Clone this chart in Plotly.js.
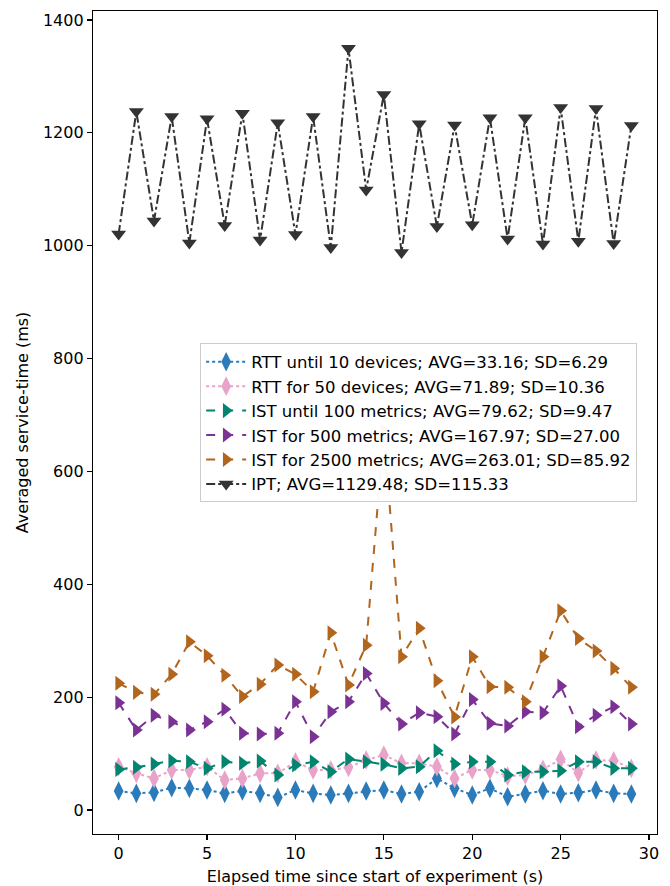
<!DOCTYPE html>
<html>
<head>
<meta charset="utf-8">
<script src="https://cdn.plot.ly/plotly-3.0.1.min.js"></script>
<style>html,body{margin:0;padding:0;background:#fff}#chart{width:670px;height:886px}</style>
</head>
<body>
<div id="chart"></div>
<script>
const seconds = [0,1,2,3,4,5,6,7,8,9,10,11,12,13,14,15,16,17,18,19,20,21,22,23,24,25,26,27,28,29];

const rttUntil10 = [33.7,29.5,31.3,39.5,38.4,35.4,29.5,33.7,29.5,22.4,35.4,29.5,26.6,29.5,33.7,35.4,28.4,32.5,56,38.4,26.6,38.4,23.6,28.4,34.2,28.4,30.7,35.4,29.5,28.4];
const rttFor50 = [76.8,65,56,71,71,76.8,53,56,65,65,85.6,71,71,75.6,88.6,97.5,82.7,82.7,76.8,56,71,71,60,62,72,89.8,66,88.6,87.4,73.8];
const istUntil100 = [72,75.6,81.5,87.4,85.6,73.8,85.6,82.7,86.8,62,79.7,85.6,67.9,90.4,85.6,81,73.8,76.8,105,81.5,85.6,85.6,62,67.9,67.9,69.7,85.6,85.6,73.8,73.8];
const istFor500 = [190,141.8,168,156.5,141.8,156.5,178.4,136,134.7,136,192,130,174,192,242,189,152.4,172.5,165.4,134.7,196,153.6,148.8,174,172.5,219.7,147.6,168,183,152.4];
const istFor2500 = [224.5,208.5,205,240.5,298,273.5,239,201,223,257,240.5,209.7,314,221.5,292,672,271.7,322,229,165,271.7,218.5,217.4,192,271.7,353,304,282,251,217.4];
const ipt = [1021,1238,1044,1229,1005,1225,1036,1235,1010,1218,1020,1229,997,1350,1099,1268,988,1216,1034,1214,1037,1227,1012,1227,1003,1245,1008,1243,1004,1213];

const seriesNames = [
  "RTT until 10 devices; AVG=33.16; SD=6.29",
  "RTT for 50 devices; AVG=71.89; SD=10.36",
  "IST until 100 metrics; AVG=79.62; SD=9.47",
  "IST for 500 metrics; AVG=167.97; SD=27.00",
  "IST for 2500 metrics; AVG=263.01; SD=85.92",
  "IPT; AVG=1129.48; SD=115.33"
];
const seriesValues = [rttUntil10, rttFor50, istUntil100, istFor500, istFor2500, ipt];
const colors = ["#2b7bba", "#e9a3c9", "#01856f", "#7b3294", "#b2651d", "#333333"];
const dashes = ["dot", "dot", "dash", "dash", "dash", "dashdot"];
const symbols = ["diamond-tall", "diamond-tall", "triangle-right", "triangle-right", "triangle-right", "triangle-down"];
const sizes = [14, 14, 13, 13, 13, 13];

const traces = seriesValues.map((vals, i) => ({
  x: seconds,
  y: vals,
  name: seriesNames[i],
  type: "scatter",
  mode: "lines+markers",
  line: {color: colors[i], dash: dashes[i], width: 2},
  marker: {color: colors[i], symbol: symbols[i], size: sizes[i], line: {width: 0}}
}));

const fontFam = "DejaVu Sans, sans-serif";
const layout = {
  width: 670, height: 886,
  margin: {l: 93, r: 13, t: 11, b: 52},
  paper_bgcolor: "#fff", plot_bgcolor: "#fff",
  font: {family: fontFam, size: 16, color: "#000"},
  showlegend: true,
  legend: {
    x: 0.19, y: 0.596, xanchor: "left", yanchor: "top",
    bgcolor: "rgba(255,255,255,0.95)", bordercolor: "#cccccc", borderwidth: 1,
    font: {family: fontFam, size: 16.5, color: "#000"},
    tracegroupgap: 0, itemwidth: 40
  },
  xaxis: {
    range: [-1.45, 30.45], tickvals: [0,5,10,15,20,25,30],
    ticks: "outside", ticklen: 5, tickwidth: 1.2, tickcolor: "#000",
    showline: true, mirror: true, linecolor: "#000", linewidth: 1.2,
    showgrid: false, zeroline: false,
    tickfont: {family: fontFam, size: 16},
    title: {text: "Elapsed time since start of experiment (s)", font: {family: fontFam, size: 16}, standoff: 8}
  },
  yaxis: {
    range: [-42.5, 1416], tickvals: [0,200,400,600,800,1000,1200,1400],
    ticks: "outside", ticklen: 5, tickwidth: 1.2, tickcolor: "#000",
    showline: true, mirror: true, linecolor: "#000", linewidth: 1.2,
    showgrid: false, zeroline: false,
    tickfont: {family: fontFam, size: 16},
    title: {text: "Averaged service-time (ms)", font: {family: fontFam, size: 16}, standoff: 10}
  }
};

Plotly.newPlot("chart", traces, layout, {displayModeBar: false, staticPlot: true});
</script>
</body>
</html>
